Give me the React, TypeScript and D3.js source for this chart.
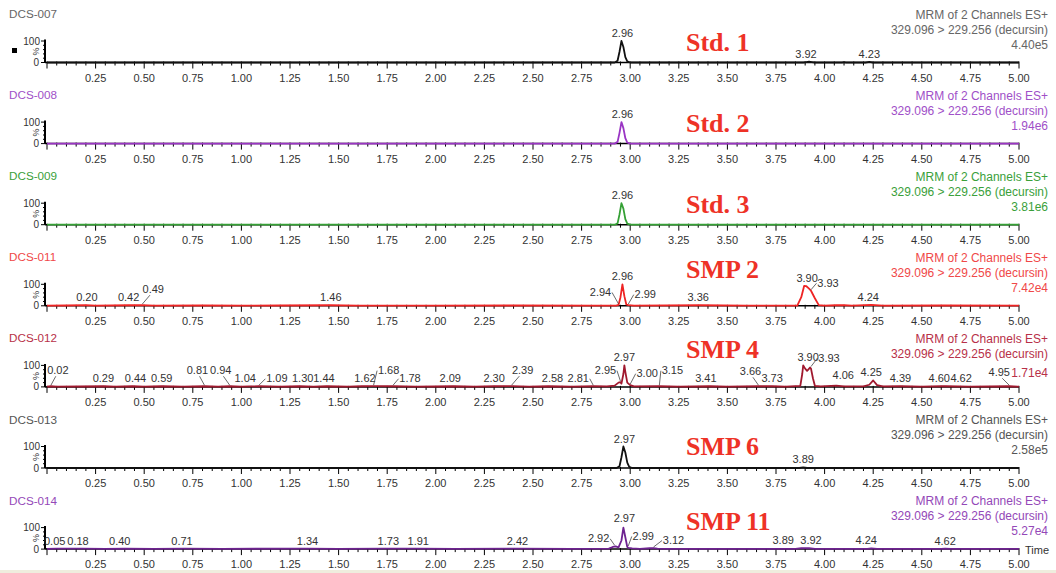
import React from "react";
import * as d3 from "d3";

// one chromatogram per sample, all on the same MRM transition
const sampleIds = ["DCS-007", "DCS-008", "DCS-009", "DCS-011", "DCS-012", "DCS-013", "DCS-014"];
const sampleNames = ["Std. 1", "Std. 2", "Std. 3", "SMP 2", "SMP 4", "SMP 6", "SMP 11"];
const maxIntensity = ["4.40e5", "1.94e6", "3.81e6", "7.42e4", "1.71e4", "2.58e5", "5.27e4"];
const channelText = "MRM of 2 Channels ES+";
const transitionText = "329.096 > 229.256 (decursin)";

const timeTicks = ["0.25", "0.50", "0.75", "1.00", "1.25", "1.50", "1.75", "2.00", "2.25", "2.50",
    "2.75", "3.00", "3.25", "3.50", "3.75", "4.00", "4.25", "4.50", "4.75", "5.00"];

// [time (min), relative intensity %]
const trace007 = [[0, 0], [2.92, 0], [2.935, 8], [2.945, 50], [2.955, 100], [2.965, 72], [2.975, 25], [2.985, 5], [3.0, 0],
    [3.89, 0], [3.905, 2], [3.92, 3.5], [3.935, 2], [3.95, 0], [4.09, 0], [4.1, 2], [4.11, 0], [4.21, 0], [4.23, 2.5], [4.25, 0], [5, 0]];
const trace008 = [[0, 0], [2.92, 0], [2.935, 8], [2.945, 50], [2.955, 100], [2.965, 72], [2.975, 25], [2.985, 5], [3.0, 0], [5, 0]];
const trace009 = [[0, 0], [2.92, 0], [2.935, 6], [2.945, 48], [2.955, 100], [2.965, 75], [2.975, 26], [2.985, 5], [3.0, 0], [5, 0]];
const trace011 = [[0, 1], [0.1, 1.5], [0.2, 3], [0.25, 1], [0.42, 2.5], [0.49, 3], [0.55, 1], [0.8, 1.5], [1.0, 1], [1.2, 1.5],
    [1.46, 2.5], [1.6, 1], [2.0, 1], [2.4, 1.5], [2.8, 1], [2.93, 1.5], [2.94, 4], [2.95, 40], [2.96, 100], [2.97, 45], [2.98, 6],
    [2.99, 3], [3.02, 1], [3.36, 2.5], [3.6, 1], [3.86, 1.5], [3.88, 40], [3.895, 93], [3.905, 92], [3.92, 80], [3.93, 70],
    [3.95, 35], [3.97, 3], [4.0, 1], [4.06, 2.5], [4.1, 3], [4.14, 1], [4.24, 4], [4.3, 1], [4.6, 1.5], [5, 1]];
const trace012 = [[0, 1], [0.02, 3], [0.05, 1], [0.29, 3], [0.35, 1.5], [0.44, 3], [0.5, 1], [0.59, 3], [0.7, 1.5], [0.81, 3],
    [0.88, 1], [0.94, 3], [1.0, 1.5], [1.04, 2.5], [1.09, 3], [1.2, 1], [1.3, 3], [1.37, 1.5], [1.44, 3], [1.55, 1], [1.62, 3],
    [1.68, 3.5], [1.78, 3], [1.9, 1], [2.09, 3], [2.2, 1.5], [2.3, 3], [2.39, 3.5], [2.48, 1], [2.58, 3], [2.7, 1.5], [2.81, 3],
    [2.88, 2], [2.92, 6], [2.94, 20], [2.95, 22], [2.955, 15], [2.965, 60], [2.97, 100], [2.975, 70], [2.985, 20], [3.0, 8],
    [3.02, 2], [3.15, 3], [3.25, 1.5], [3.41, 3], [3.5, 1], [3.66, 3], [3.73, 3], [3.8, 1.5], [3.875, 5], [3.885, 60],
    [3.89, 100], [3.9, 85], [3.91, 75], [3.925, 90], [3.93, 85], [3.94, 40], [3.95, 5], [3.98, 2], [4.06, 6], [4.1, 2],
    [4.2, 2], [4.23, 10], [4.25, 30], [4.27, 8], [4.3, 2], [4.39, 3], [4.5, 1.5], [4.6, 3], [4.62, 3], [4.75, 1.5], [4.95, 3], [5, 1]];
const trace013 = [[0, 0], [2.93, 0], [2.945, 8], [2.955, 50], [2.965, 100], [2.975, 72], [2.985, 25], [2.995, 5], [3.01, 0],
    [3.87, 0], [3.89, 3], [3.91, 0], [5, 0]];
const trace014 = [[0, 1], [0.05, 2.5], [0.18, 2.5], [0.3, 1], [0.4, 2.5], [0.55, 1], [0.71, 2.5], [0.9, 1], [1.34, 2.5], [1.5, 1],
    [1.73, 2.5], [1.91, 2.5], [2.1, 1], [2.42, 2.5], [2.7, 1], [2.89, 2], [2.91, 10], [2.925, 13], [2.94, 8], [2.955, 40],
    [2.965, 100], [2.975, 55], [2.985, 10], [2.99, 6], [3.01, 3], [3.05, 1], [3.1, 4], [3.12, 5], [3.14, 2], [3.2, 1],
    [3.85, 1], [3.88, 5], [3.9, 4], [3.92, 5], [3.95, 1], [4.22, 1], [4.24, 3.5], [4.27, 1], [4.6, 1], [4.62, 2.5], [4.65, 1], [5, 1]];

// retention times printed above the peaks
const peaks007 = [2.96, 3.92, 4.23];
const peaks008 = [2.96];
const peaks009 = [2.96];
const peaks011 = [0.20, 0.42, 0.49, 1.46, 2.94, 2.96, 2.99, 3.36, 3.90, 3.93, 4.24];
const peaks012 = [0.02, 0.29, 0.44, 0.59, 0.81, 0.94, 1.04, 1.09, 1.30, 1.44, 1.62, 1.68, 1.78, 2.09, 2.30, 2.39, 2.58,
    2.81, 2.95, 2.97, 3.00, 3.15, 3.41, 3.66, 3.73, 3.90, 3.93, 4.06, 4.25, 4.39, 4.60, 4.62, 4.95];
const peaks013 = [2.97, 3.89];
const peaks014 = [0.05, 0.18, 0.40, 0.71, 1.34, 1.73, 1.91, 2.42, 2.92, 2.97, 2.99, 3.12, 3.89, 3.92, 4.24, 4.62];

const traces = [trace007, trace008, trace009, trace011, trace012, trace013, trace014];
const peakLists = [peaks007, peaks008, peaks009, peaks011, peaks012, peaks013, peaks014];

// layout / style
const traceColors = ["#111111", "#9a35c4", "#35a035", "#ee2424", "#a0182e", "#111111", "#6e2390"];
const textColors = ["#666666", "#a050c8", "#3aa03a", "#f04848", "#b83048", "#555555", "#9448b8"];
const nameRed = "#ee3226";
const nameLift = [12, 12, 12, 28, 29, 13, 19];

// label nudges: [dx px, lift px, leader]
const labelNudge: Record<string, [number, number, boolean?]>[] = [
    { "3.92": [-3, 0] },
    {},
    {},
    { "0.20": [1, 0], "0.49": [11, 8, true], "2.94": [-18, 5, true], "2.99": [17, 3, true], "3.90": [2, 0],
        "3.93": [17, 0, true], "3.36": [-2, 0], "4.24": [-3, 0] },
    { "0.02": [7, 8, true], "0.44": [3, 0], "0.81": [-7, 8, true], "0.94": [-9, 8, true], "1.04": [-4, 0],
        "1.09": [18, 0, true], "1.30": [3, 0], "1.44": [-3, 0], "1.62": [3, 0], "1.68": [15, 8, true], "1.78": [17, 0, true],
        "2.09": [-3, 0], "2.39": [11, 8, true], "2.58": [4, 0], "2.81": [-15, 0, true], "2.95": [-15, 4, true],
        "3.00": [17, 4, true], "3.15": [13, 8, true], "3.41": [-4, 0], "3.66": [-8, 7, true], "3.90": [3, 4],
        "3.93": [18, 2, true], "4.06": [7, 3], "4.25": [-2, 0], "4.60": [-2, 0], "4.62": [16, 0], "4.95": [-10, 6, true] },
    {},
    { "0.05": [-2, 0], "0.18": [-4, 0], "0.40": [-5, 0], "0.71": [-3, 0], "1.73": [5, 0], "2.92": [-16, 0, true],
        "2.97": [0, 2], "2.99": [15, 3, true], "3.12": [20, 0, true], "3.89": [-20, 0], "3.92": [2, 0], "4.24": [-5, 0] },
];

const W = 1056;
const H = 573;
const firstBase = 62.5;
const step = 81.1;
const fullHeight = 21.5;
const sans = "'Liberation Sans', Arial, sans-serif";

const x = d3.scaleLinear().domain([0, 5]).range([47, 1019]);

const valueAt = (trace: number[][], t: number) => {
    let best = 0;
    for (let i = 0; i < trace.length - 1; i++) {
        const [t0, v0] = trace[i];
        const [t1, v1] = trace[i + 1];
        if (t >= t0 && t <= t1) {
            const v = t1 === t0 ? v0 : v0 + (v1 - v0) * (t - t0) / (t1 - t0);
            best = Math.max(best, v);
        }
        if (Math.abs(t0 - t) <= 0.006) best = Math.max(best, v0);
    }
    return best;
};

const Panel = ({ i }: { i: number }) => {
    const base = firstBase + i * step;
    const y = d3.scaleLinear().domain([0, 100]).range([base, base - fullHeight]);
    const line = d3.line<number[]>().x(d => x(d[0])).y(d => y(d[1]));
    const minor = d3.range(0, 101).map(k => k * 0.05);
    const trace = traces[i];
    const nudges = labelNudge[i];

    return (
        <g>
            <text x={9} y={base - 49} fill={textColors[i]} fontSize={11.7} fontFamily={sans} dominantBaseline="central">
                {sampleIds[i]}
            </text>
            <g fontFamily={sans} fontSize={12} fill={textColors[i]} textAnchor="end">
                <text x={1048} y={base - 48} dominantBaseline="central">{channelText}</text>
                <text x={1048} y={base - 33} dominantBaseline="central">{transitionText}</text>
                <text x={1048} y={base - (i === 4 ? 14 : 18)} dominantBaseline="central">{maxIntensity[i]}</text>
            </g>

            {/* y axis */}
            <line x1={45} x2={45} y1={base} y2={y(100) - 1.5} stroke="#000" strokeWidth={2} />
            <line x1={41} x2={45} y1={y(100)} y2={y(100)} stroke="#000" strokeWidth={1} />
            <line x1={41} x2={45} y1={base} y2={base} stroke="#000" strokeWidth={1} />
            {[20, 40, 60, 80].map(v => (
                <line key={v} x1={43} x2={45} y1={y(v)} y2={y(v)} stroke="#000" strokeWidth={1} />
            ))}
            <g fontFamily={sans} fontSize={10} fill="#333" textAnchor="end">
                <text x={40} y={y(100)} dominantBaseline="central">100</text>
                <text x={39} y={base} dominantBaseline="central">0</text>
                <text transform={`translate(36,${base - 11}) rotate(-90)`} textAnchor="middle"
                    dominantBaseline="central" fontSize={9}>%</text>
            </g>

            {/* x axis */}
            <line x1={45} x2={x(5)} y1={base} y2={base} stroke="#000" strokeWidth={1.5} />
            {minor.map((t, k) => (
                <line key={k} x1={x(t)} x2={x(t)} y1={base - 1} y2={base + (k % 5 === 0 ? 6 : 3)}
                    stroke="#000" strokeWidth={1} />
            ))}
            <g fontFamily={sans} fontSize={11} fill="#333" textAnchor="middle">
                {timeTicks.map(s => (
                    <text key={s} x={x(+s)} y={base + 15} dominantBaseline="central">{s}</text>
                ))}
            </g>
            {i === 6 && (
                <text x={1025} y={base + 1} fontFamily={sans} fontSize={11} fill="#333" dominantBaseline="central">Time</text>
            )}

            <path d={line(trace) || ""} fill="none" stroke={traceColors[i]} strokeWidth={1.8} strokeLinejoin="round" />

            {peakLists[i].map(rt => {
                const label = rt.toFixed(2);
                const [dx, lift, leader] = nudges[label] || [0, 0, false];
                const xr = x(rt);
                const yr = y(valueAt(trace, rt));
                const lx = xr + dx;
                const ly = yr - 4 - lift;
                let ax = lx - 0.3 * dx;
                let ay = ly + 2;
                if (Math.abs(dx) >= 12) {
                    ax = lx - Math.sign(dx) * 11.5;
                    ay = ly - 3.5;
                }
                return (
                    <g key={label}>
                        {leader && (
                            <line x1={ax} y1={ay} x2={xr} y2={yr - 1} stroke="#444" strokeWidth={0.8} />
                        )}
                        <text x={lx} y={ly} textAnchor="middle" fontFamily={sans} fontSize={11} fill="#333">{label}</text>
                    </g>
                );
            })}

            <text x={686} y={base - nameLift[i]} fill={nameRed} fontFamily="'Liberation Serif', 'Times New Roman', serif"
                fontWeight="bold" fontSize={26}>
                {sampleNames[i]}
            </text>

            {i === 0 && <rect x={12} y={48} width={5} height={5} fill="#000" />}
        </g>
    );
};

const App = () => {
    return (
        <svg width={W} height={H} style={{ position: "absolute", left: 0, top: 0, background: "#fff" }}>
            <rect width={W} height={H} fill="#fff" />
            {sampleIds.map((id, i) => <Panel key={id} i={i} />)}
            <rect x={0} y={570} width={W} height={3} fill="#efedde" />
        </svg>
    );
};

export default App;
